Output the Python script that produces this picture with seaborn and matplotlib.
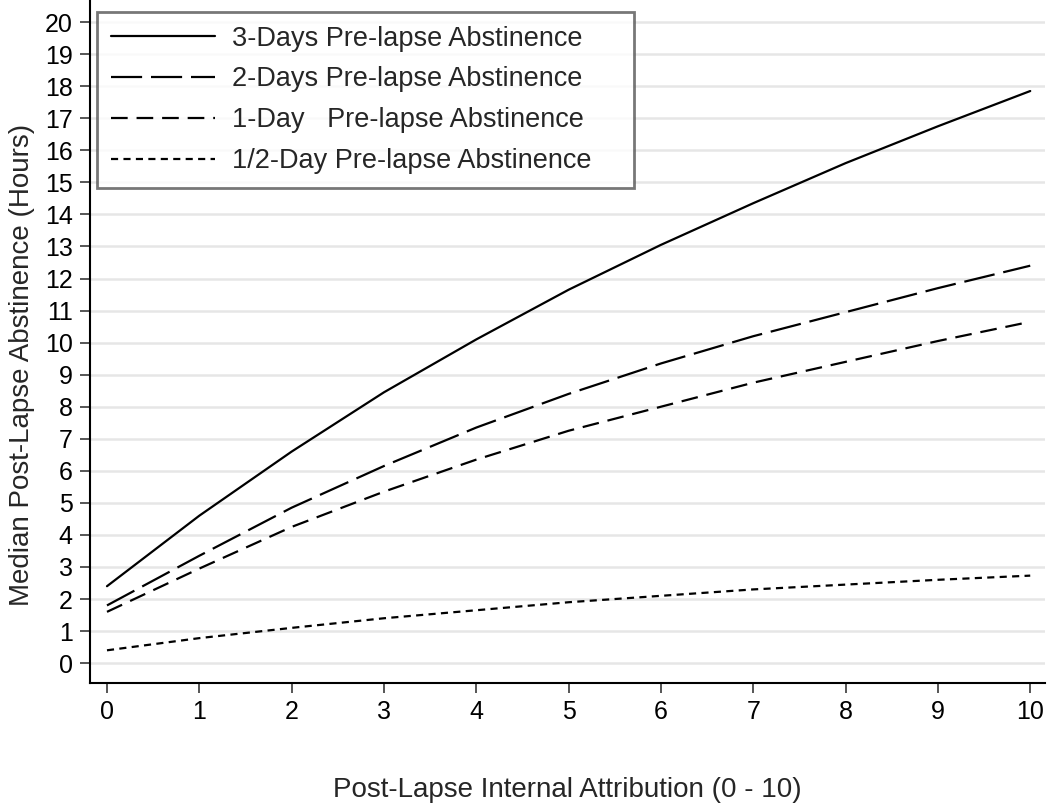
import matplotlib
matplotlib.use("Agg")
import matplotlib.pyplot as plt
import seaborn as sns
import pandas as pd
from matplotlib.lines import Line2D

attribution = [0, 1, 2, 3, 4, 5, 6, 7, 8, 9, 10]
three_days = [2.4, 4.6, 6.6, 8.45, 10.1, 11.65, 13.05, 14.35, 15.6, 16.75, 17.85]
two_days = [1.8, 3.35, 4.85, 6.15, 7.35, 8.4, 9.35, 10.2, 10.95, 11.7, 12.4]
one_day = [1.6, 2.95, 4.25, 5.35, 6.35, 7.25, 8.0, 8.75, 9.4, 10.05, 10.65]
half_day = [0.4, 0.78, 1.1, 1.4, 1.65, 1.9, 2.1, 2.3, 2.45, 2.6, 2.73]
series_labels = ["3-Days Pre-lapse Abstinence", "2-Days Pre-lapse Abstinence",
                 "1-Day   Pre-lapse Abstinence", "1/2-Day Pre-lapse Abstinence"]
x_ticks = list(range(0, 11))
y_ticks = list(range(0, 21))

frames = []
for lab, vals in zip(series_labels, [three_days, two_days, one_day, half_day]):
    frames.append(pd.DataFrame({"x": attribution, "y": vals, "series": lab}))
df = pd.concat(frames, ignore_index=True)

sns.set_theme(style="white")
plt.rcParams['font.family'] = ['Liberation Sans', 'DejaVu Sans']

fig = plt.figure(figsize=(10.5, 8.11), dpi=100)
ax = fig.add_axes([90 / 1050, (811 - 683) / 811, (1045 - 90) / 1050, 683 / 811])

dashes = {series_labels[0]: "",
          series_labels[1]: (14, 4),
          series_labels[2]: (7.5, 4),
          series_labels[3]: (3.2, 2.4)}
palette = {lab: "black" for lab in series_labels}
sns.lineplot(data=df, x="x", y="y", hue="series", style="series",
             palette=palette, dashes=dashes, linewidth=1.6, ax=ax, legend=False)

ax.set_xlim(-0.184, 10.16)
ax.set_ylim(-0.62, 20.69)
ax.set_xticks(x_ticks)
ax.set_yticks(y_ticks)
ax.yaxis.grid(True, color="#e6e6e6", linewidth=1.8)
ax.xaxis.grid(False)
ax.set_axisbelow(True)
for s in ["top", "right"]:
    ax.spines[s].set_visible(False)
for s in ["left", "bottom"]:
    ax.spines[s].set_color("black")
    ax.spines[s].set_linewidth(1.5)
ax.tick_params(axis="both", which="major", direction="out", length=7.5, width=1.4,
               color="#555555", labelsize=18, labelcolor="black", pad=5)
ax.tick_params(axis="both", bottom=True, left=True)

ax.set_xlabel("Post-Lapse Internal Attribution (0 - 10)", fontsize=20, labelpad=38)
ax.set_ylabel("Median Post-Lapse Abstinence (Hours)", fontsize=20)
ax.yaxis.set_label_coords(-0.058, 0.465)

handles = []
for lab in series_labels:
    d = dashes[lab]
    ln = Line2D([0], [0], color="black", linewidth=1.6)
    if d:
        ln.set_dashes(d)
    handles.append(ln)
x0 = 97 / 1050
y_top = 1 - 12 / 811
w = (634 - 97) / 1050
h = (193 - 12) / 811
leg = fig.legend(handles, series_labels, loc="upper left",
                 bbox_to_anchor=(x0, y_top - h, w, h), mode="expand", borderaxespad=0,
                 fontsize=19.5, frameon=True, fancybox=False, handlelength=3.85,
                 handletextpad=0.62, labelspacing=0.55, borderpad=0.5)
leg.get_frame().set_edgecolor("#555555")
leg.get_frame().set_linewidth(2)

fig.savefig("out.png", dpi=100)
